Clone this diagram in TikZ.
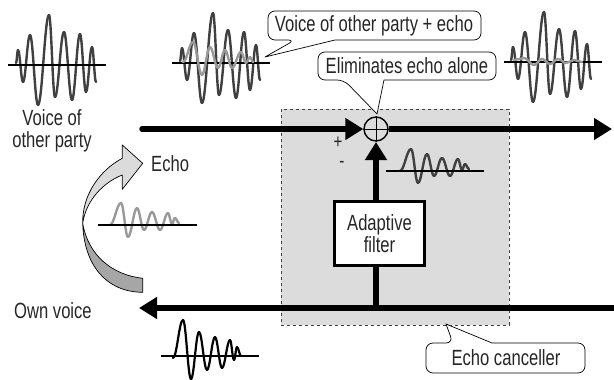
\documentclass[tikz,border=0pt]{standalone}
\usepackage{fontspec}
\setmainfont[FakeStretch=0.755]{Liberation Sans}
\usetikzlibrary{arrows.meta}
\definecolor{boxgray}{HTML}{DCDCDC}
\definecolor{wavedark}{HTML}{404040}
\definecolor{wavegray}{HTML}{999999}
\tikzset{
  lbl/.style={font=\fontsize{22}{21.5}\selectfont,inner sep=0pt,align=center,text=black!85},
  sgn/.style={font=\fontsize{20}{20}\selectfont,inner sep=0pt,text height=9pt,text depth=0pt,text=black!85},
  bigline/.style={line width=5.5pt,draw=black},
  bigarrow/.style={line width=5.5pt,draw=black,-{Triangle[length=18pt,width=21pt]}},
  axisline/.style={line width=1.6pt,draw=black},
  wdark/.style={line width=2.4pt,draw=wavedark,line cap=round},
  wgray/.style={line width=2.4pt,draw=wavegray,line cap=round},
  wblack/.style={line width=2.2pt,draw=black,line cap=round},
  callout/.style={draw=black,line width=0.7pt,fill=white,line join=round},
}
\newcommand\wave[4]{\foreach \qx/\qy [remember=\qx as \px (initially 0), remember=\qy as \py (initially 0), count=\i] in {#4}{\ifnum\i>1 \pgfmathsetmacro\dd{0.38*(\qx-\px)}\draw[#1,shift={(#2,#3)}] (\px,\py) .. controls (\px+\dd,\py) and (\qx-\dd,\qy) .. (\qx,\qy);\fi}}
\newcommand\bigwave[3]{\wave{#1}{#2}{#3}{16/63,18/50,23/82,30/35,38/105,49/15,55/97,64/32,72/100,80/34,86/92,92/47,96/82}}
\newcommand\echowave[3]{\wave{#1}{#2}{#3}{110/225,121/203,128/237,137/208,144/230,152/212,160/230,168/213,172/224,175/218,179/223}}
\begin{document}
\begin{tikzpicture}[x=1pt,y=-1pt]
\useasboundingbox (0,0) rectangle (614,380);
% canceller box
\node[draw=black!75,dashed,line width=0.7pt,fill=boxgray,minimum width=228pt,minimum height=216pt,inner sep=0pt,anchor=north west] (canceller) at (281,109) {};
% waves
\bigwave{wdark}{0}{0}
\draw[axisline] (8,65) -- (106,65);
\bigwave{wdark}{164}{-2}
\draw[axisline] (172,63) -- (270,63);
\wave{wgray}{0}{0}{183/62,193/42,202/75,210/47,218/68,225/50,232/68,241/52,246/63,250/57,253/62}
\bigwave{wdark}{495}{-3}
\draw[axisline] (504,62) -- (602,62);
\wave{wgray}{0}{0}{514/60,524/58,534/65,542/59,550/64,558/59,566/63,574/60,582/62}
\echowave{wgray}{0}{0}
\draw[axisline] (98,225) -- (197,225);
\echowave{wdark}{290}{-54}
\draw[axisline] (386,171) -- (484,171);
\wave{wblack}{0}{0}{173/358,183/320,191/379,199/332,207/370,215/337,222/368,230/340,234/360,237/347,241/356}
\draw[axisline] (161,356) -- (259,356);
% curved arrow
\coordinate (pinch) at (82.7,223.3);
\draw[line width=0.7pt,fill=black!35,line join=round] (pinch) .. controls (84,265) and (106,292) .. (142.7,292.3) -- (142.7,278.3) .. controls (112,275) and (88,255) .. (pinch) -- cycle;
\draw[line width=0.7pt,fill=black!14,line join=round] (pinch) .. controls (82,195) and (100,170) .. (122.3,158.3) -- (122.3,145) -- (142.7,163.3) -- (122.3,189.3) -- (122.3,175) .. controls (104,182) and (86,200) .. (pinch) -- cycle;
% main connectors
\node[draw=black,fill=white,line width=2.6pt,minimum width=90pt,minimum height=64pt,inner sep=0pt,lbl,draw=black] (filter) at (379.5,233.5) {Adaptive\\filter};
\node[circle,draw=black,line width=1.4pt,minimum size=24pt,inner sep=0pt] (sum) at (376,129) {};
\coordinate (inL) at (142,129);
\coordinate (outR) at (612,129);
\coordinate (inR) at (614,308);
\coordinate (outL) at (139,308);
\coordinate (tap) at (376,308);
\coordinate (filterTop) at (376,201);
\coordinate (filterBot) at (376,266);
\coordinate (sumS) at (376,142);
\draw[bigarrow,line cap=round] (inL) -- (sum.west);
\draw[bigarrow] (sum.east) -- (outR);
\draw[bigarrow] (inR) -- (outL);
\draw[bigline] (filterBot) -- (tap);
\draw[bigarrow] (filterTop) -- (sumS);
\draw[line width=0.8pt] (sum.north) -- (sum.south) (sum.west) -- (sum.east);
% callouts
\draw[callout,rounded corners=7pt] (335,40) -- (481,40) -- (481,11) -- (268,11) -- (268,40) -- (295,40) [sharp corners] -- (265,57) -- cycle;
\node[lbl] (c1) at (374,26) {Voice of other party + echo};
\draw[callout,rounded corners=7pt] (384,80) -- (496,80) -- (496,52) -- (318,52) -- (318,80) -- (344,80) [sharp corners] -- (377,114) -- cycle;
\node[lbl] (c2) at (407,66) {Eliminates echo alone};
\draw[callout,rounded corners=7pt] (492,343) -- (585,343) -- (585,373) -- (426,373) -- (426,343) -- (453,343) [sharp corners] -- (446,324) -- cycle;
\node[lbl] (c3) at (506,358) {Echo canceller};
% labels
\node[lbl] (voice) at (52,131) {Voice of\\other party};
\node[lbl,anchor=west] (echo) at (151,164) {Echo};
\node[lbl,anchor=west] (own) at (14,311) {Own voice};
\node[sgn] (plus) at (338,144) {+};
\node[sgn] (minus) at (342,163) {-};
\end{tikzpicture}
\end{document}
